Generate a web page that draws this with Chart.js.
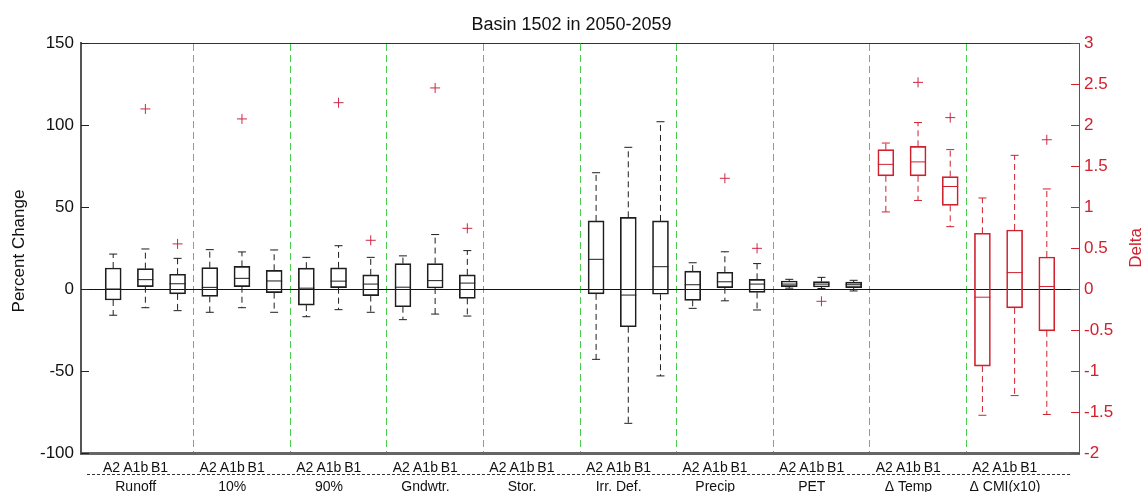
<!DOCTYPE html>
<html lang="en">
<head>
  <meta charset="UTF-8">
  <title>Basin 1502 in 2050-2059</title>
  <script src="https://cdn.jsdelivr.net/npm/chart.js"></script>
  <style>
    body { margin: 0; background: #ffffff; }
    #wrap { width: 1143px; height: 492px; }
  </style>
</head>
<body>
<div id="wrap"><canvas id="chart"></canvas></div>

<script>
  // Categories along the x axis
  const groups = ['Runoff', '10%', '90%', 'Gndwtr.', 'Stor.', 'Irr. Def.', 'Precip', 'PET', '\u0394 Temp', '\u0394 CMI(x10)'];
  const scenarios = ['A2', 'A1b', 'B1'];
  // these groups are read on the right (Delta) axis
  const deltaGroups = ['\u0394 Temp', '\u0394 CMI(x10)'];

  // Tick labels
  const percentTicks = [-100, -50, 0, 50, 100, 150];
  const deltaTicks = [-2, -1.5, -1, -0.5, 0, 0.5, 1, 1.5, 2, 2.5, 3];

  // Box statistics, one entry per box (A2, A1b, B1 of each group)
  const whiskerLow  = [-16, -11.4, -13.2,  -14.2, -11.4, -14.2,  -16.9, -12.6, -14.2,  -18.7, -15.3, -16.5,  null, null, null,
                       -42.9, -81.9, -53,  -11.8, -7.2, -12.8,  0.5, 0.3, -1.2,  0.94, 1.08, 0.76,  -1.54, -1.30, -1.53];
  const quart1      = [-6.7, 1.4, -3,  -4.5, 1.4, -2.2,  -9.8, 0.8, -4,  -10.8, 0.6, -5.7,  null, null, null,
                       -3, -23, -3.2,  -6.9, 0.8, -2.1,  1.4, 1.2, 0.8,  1.38, 1.38, 1.02,  -0.94, -0.23, -0.51];
  const medians     = [0, 5.7, 3.2,  1, 6.5, 4.9,  0.5, 4.8, 3,  1.1, 5.1, 3.6,  null, null, null,
                       18.1, -3.7, 13.6,  2.6, 4.4, 3,  3, 3, 2.6,  1.52, 1.55, 1.25,  -0.10, 0.20, 0.03];
  const quart3      = [12.8, 12.4, 9,  13, 13.8, 11.4,  12.7, 12.9, 8.6,  15.5, 15.5, 8.6,  null, null, null,
                       41.5, 43.7, 41.5,  10.9, 10.2, 5.9,  4.9, 4.5, 4.2,  1.70, 1.74, 1.37,  0.68, 0.72, 0.39];
  const whiskerHigh = [21.3, 24.4, 18.7,  24, 22.6, 23.8,  19.3, 26.4, 19.3,  20.2, 33.2, 23.4,  null, null, null,
                       70.9, 86.4, 102,  16, 22.7, 15.5,  5.9, 7.1, 5.3,  1.78, 2.03, 1.70,  1.11, 1.63, 1.22];

  // Outliers: box number (0 based) and value
  const outlierBox   = [1, 2, 4, 7, 8, 10, 11, 19, 20, 22, 25, 26, 29];
  const outlierValue = [109.8, 27.5, 103.7, 113.6, 29.7, 122.6, 37, 67.5, 24.8, -7.5, 2.52, 2.09, 1.82];

  const fontFamily = "'Liberation Sans', Arial, sans-serif";
  const black = '#1e1e1e';
  const red = '#d0202e';
  const plusRed = '#cc2844';
  const green = '#4ccc4c';

  Chart.defaults.font.family = fontFamily;
  Chart.defaults.color = '#111111';

  const isDelta = i => deltaGroups.includes(groups[Math.floor(i / 3)]);

  // collect points for boxes of one side (percent or delta)
  function collect(delta, fn) {
    const out = [];
    medians.forEach((m, i) => {
      if (m === null || isDelta(i) !== delta) return;
      out.push(...fn(i + 1, i));
    });
    return out;
  }

  function boxDatasets(delta) {
    const axis = delta ? 'y2' : 'y';
    const color = delta ? red : black;
    return [
      {
        type: 'bar',
        yAxisID: axis,
        data: collect(delta, (x, i) => [{ x: x, y: [quart1[i], quart3[i]] }]),
        backgroundColor: 'rgba(0,0,0,0)',
        borderColor: color,
        borderWidth: 1,
        borderSkipped: false,
        grouped: false,
        barThickness: 16,
        maxBarThickness: 16
      },
      {
        type: 'line',
        yAxisID: axis,
        data: collect(delta, (x, i) => [
          { x: x, y: quart3[i] }, { x: x, y: whiskerHigh[i] }, { x: x, y: null },
          { x: x, y: quart1[i] }, { x: x, y: whiskerLow[i] }, { x: x, y: null }
        ]),
        borderColor: color,
        borderWidth: 1,
        borderDash: [6, 4],
        pointRadius: 0,
        spanGaps: false
      },
      {
        type: 'scatter',
        yAxisID: axis,
        data: collect(delta, (x, i) => [{ x: x, y: whiskerHigh[i] }, { x: x, y: whiskerLow[i] }]),
        pointStyle: 'line',
        pointRadius: 4,
        pointBorderColor: color,
        pointBorderWidth: 1
      },
      {
        type: 'scatter',
        yAxisID: axis,
        data: collect(delta, (x, i) => [{ x: x, y: medians[i] }]),
        pointStyle: 'line',
        pointRadius: 8,
        pointBorderColor: color,
        pointBorderWidth: 1
      },
      {
        type: 'scatter',
        yAxisID: axis,
        data: outlierBox
          .map((b, k) => ({ b: b, v: outlierValue[k] }))
          .filter(o => isDelta(o.b) === delta)
          .map(o => ({ x: o.b + 1, y: o.v })),
        pointStyle: 'cross',
        pointRadius: 5,
        pointBorderColor: plusRed,
        pointBorderWidth: 1
      }
    ];
  }

  // scenario labels sit a little packed together under each group
  const labelShift = [-0.05, 0.70, 1.44];
  const labelPos = groups.flatMap((g, k) => labelShift.map(s => 3 * k + 1 + s));
  const dividerPos = groups.slice(1).map((g, k) => 3 * (k + 1) + 0.5);

  // inward ticks, dashed rule under scenario labels, axis titles
  const decorations = {
    id: 'decorations',
    afterDraw(chart) {
      const { ctx, chartArea: a, scales } = chart;
      ctx.save();
      ctx.lineWidth = 1;
      ctx.strokeStyle = '#222222';
      scales.y.ticks.forEach(t => {
        const py = Math.round(scales.y.getPixelForValue(t.value)) + 0.5;
        ctx.beginPath();
        ctx.moveTo(a.left, py);
        ctx.lineTo(a.left + 8, py);
        ctx.stroke();
      });
      ctx.strokeStyle = red;
      scales.y2.ticks.forEach(t => {
        const py = Math.round(scales.y2.getPixelForValue(t.value)) + 0.5;
        ctx.beginPath();
        ctx.moveTo(a.right - 8, py);
        ctx.lineTo(a.right, py);
        ctx.stroke();
      });

      ctx.strokeStyle = '#333333';
      ctx.setLineDash([3, 2]);
      ctx.beginPath();
      ctx.moveTo(a.left + 6, a.bottom + 21.5);
      ctx.lineTo(a.right - 7, a.bottom + 21.5);
      ctx.stroke();
      ctx.setLineDash([]);

      ctx.font = '17px ' + fontFamily;
      ctx.textAlign = 'center';
      ctx.textBaseline = 'middle';
      ctx.fillStyle = '#111111';
      ctx.translate(19, (a.top + a.bottom) / 2 + 3);
      ctx.rotate(-Math.PI / 2);
      ctx.fillText('Percent Change', 0, 0);
      ctx.setTransform(1, 0, 0, 1, 0, 0);
      ctx.fillStyle = red;
      ctx.translate(chart.width - 7, (a.top + a.bottom) / 2);
      ctx.rotate(-Math.PI / 2);
      ctx.fillText('Delta', 0, 0);
      ctx.restore();
    }
  };

  new Chart(document.getElementById('chart'), {
    type: 'scatter',
    data: {
      datasets: [...boxDatasets(false), ...boxDatasets(true)]
    },
    options: {
      responsive: true,
      maintainAspectRatio: false,
      animation: false,
      events: [],
      layout: { padding: 0 },
      plugins: {
        legend: { display: false },
        tooltip: { enabled: false },
        title: {
          display: true,
          text: 'Basin 1502 in 2050-2059',
          color: '#111111',
          font: { size: 18, weight: 'normal' },
          padding: { top: 14, bottom: 0 }
        }
      },
      scales: {
        x: {
          type: 'linear',
          position: 'bottom',
          min: 0,
          max: 31,
          offset: false,
          afterFit: s => { s.height = 39; },
          afterBuildTicks: s => { s.ticks = labelPos.map(v => ({ value: v })); },
          grid: { drawOnChartArea: false, drawTicks: false },
          border: { color: '#666666', width: 3 },
          ticks: {
            autoSkip: false,
            maxRotation: 0,
            minRotation: 0,
            padding: 5.5,
            color: '#111111',
            font: { size: 14, lineHeight: 1.35 },
            callback: (value, index) => index % 3 === 1
              ? [scenarios[1], groups[Math.floor(index / 3)]]
              : scenarios[index % 3]
          }
        },
        xTop: {
          type: 'linear',
          axis: 'x',
          position: 'top',
          min: 0,
          max: 31,
          offset: false,
          afterFit: s => { s.height = 43 - (18 * 1.2 + 14); },
          afterBuildTicks: s => { s.ticks = dividerPos.map(v => ({ value: v })); },
          grid: { color: green, lineWidth: 1, drawTicks: false },
          border: { color: '#333333', width: 1, dash: [7, 4] },
          ticks: { display: false }
        },
        y: {
          type: 'linear',
          position: 'left',
          min: percentTicks[0],
          max: percentTicks[percentTicks.length - 1],
          afterFit: s => { s.width = 81; },
          afterBuildTicks: s => { s.ticks = percentTicks.map(v => ({ value: v })); },
          grid: {
            drawTicks: false,
            color: ctx => ctx.tick && ctx.tick.value === 0 ? '#111111' : 'rgba(0,0,0,0)'
          },
          border: { color: '#555555', width: 2 },
          ticks: {
            padding: 7,
            color: '#111111',
            font: { size: 17 }
          }
        },
        y2: {
          type: 'linear',
          position: 'right',
          min: deltaTicks[0],
          max: deltaTicks[deltaTicks.length - 1],
          afterFit: s => { s.width = 64; },
          afterBuildTicks: s => { s.ticks = deltaTicks.map(v => ({ value: v })); },
          grid: { drawOnChartArea: false, drawTicks: false },
          border: { color: red, width: 1 },
          ticks: {
            padding: 5,
            color: red,
            font: { size: 17 },
            callback: v => String(v)
          }
        }
      }
    },
    plugins: [decorations]
  });
</script>
</body>
</html>
